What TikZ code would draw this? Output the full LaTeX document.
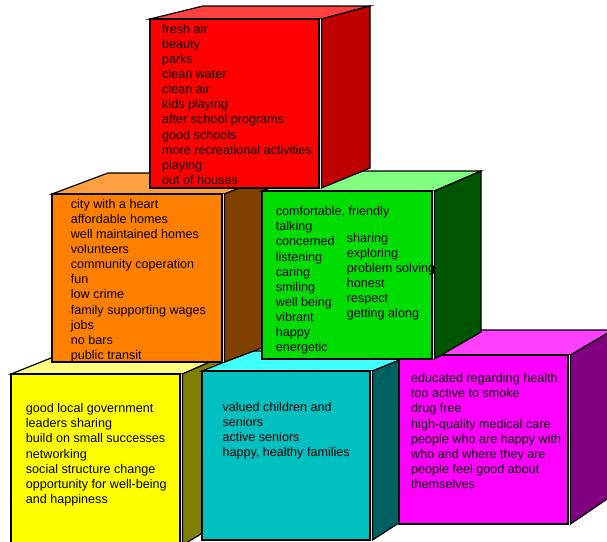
\documentclass[tikz,border=0pt]{standalone}
\usepackage{fontspec}
\setmainfont{Liberation Sans}
\definecolor{cuberedF}{RGB}{255,0,0}
\definecolor{cuberedT}{RGB}{255,64,64}
\definecolor{cuberedS}{RGB}{192,0,0}
\definecolor{cubeorangeF}{RGB}{255,128,0}
\definecolor{cubeorangeT}{RGB}{255,160,64}
\definecolor{cubeorangeS}{RGB}{128,64,0}
\definecolor{cubegreenF}{RGB}{0,221,0}
\definecolor{cubegreenT}{RGB}{128,255,128}
\definecolor{cubegreenS}{RGB}{0,85,0}
\definecolor{cubeyellowF}{RGB}{255,255,0}
\definecolor{cubeyellowT}{RGB}{255,255,128}
\definecolor{cubeyellowS}{RGB}{128,128,0}
\definecolor{cubecyanF}{RGB}{0,192,192}
\definecolor{cubecyanT}{RGB}{64,255,255}
\definecolor{cubecyanS}{RGB}{0,96,96}
\definecolor{cubemagentaF}{RGB}{255,0,255}
\definecolor{cubemagentaT}{RGB}{255,64,255}
\definecolor{cubemagentaS}{RGB}{128,0,128}
\tikzset{
  faceedge/.style={draw=black, line width=1.2pt, line join=miter},
  frontedge/.style={draw=black, line width=2pt, line join=miter},
  lbl/.style={anchor=base west, inner sep=0pt, text=black,
    font=\fontsize{12.6}{15.1}\selectfont},
}
% #1 L  #2 T  #3 R  #4 B  #5 L'  #6 T'  #7 R'  #8 B'  #9 colour prefix
\newcommand\drawcube[9]{%
  \path[faceedge, fill=cube#9T] (#1,#2) -- (#3+2.5,#2) -- (#7,#6) -- (#5,#6) -- cycle;
  \fill[white] (#3,#2) rectangle (#3+2.5,#4);
  \path[faceedge, fill=cube#9S] (#3+2.5,#2) -- (#7,#6) -- (#7,#8) -- (#3+2.5,#4) -- cycle;
  \path[frontedge, fill=cube#9F] (#1,#2) rectangle (#3,#4);
}
\newcommand\lines[1]{\begin{tabular}[t]{@{}l@{}}#1\end{tabular}}
\begin{document}
\begin{tikzpicture}[x=1pt, y=-1pt]
\useasboundingbox (0,0) rectangle (607,541);
\clip (0,0) rectangle (607,541);
% bottom row
\drawcube{11}{374}{180}{545}{61}{354}{228}{518}{yellow}
\drawcube{202}{371}{370}{540}{252}{351}{422}{508}{cyan}
\drawcube{399}{355}{568}{524}{447}{330}{613}{495}{magenta}
% middle row
\drawcube{52}{194}{222}{362}{108}{173}{278}{342}{orange}
\drawcube{262}{191}{432}{359}{313}{171}{481}{332}{green}
% top
\drawcube{150}{19}{319}{188}{203}{6}{370}{168}{red}

\node[lbl] (redtext) at (162,33.3) {\lines{fresh air\\ beauty\\ parks\\ clean water\\ clean air\\ kids playing\\ after school programs\\ good schools\\ more recreational activities\\ playing\\ out of houses}};
\node[lbl] (orangetext) at (70.7,208.3) {\lines{city with a heart\\ affordable homes\\ well maintained homes\\ volunteers\\ community coperation\\ fun\\ low crime\\ family supporting wages\\ jobs\\ no bars\\ public transit}};
\node[lbl] (greenleft) at (275.7,215.7) {\lines{comfortable, friendly\\ talking\\ concerned\\ listening\\ caring\\ smiling\\ well being\\ vibrant\\ happy\\ energetic}};
\node[lbl] (greenright) at (346.7,242.3) {\lines{sharing\\ exploring\\ problem solving\\ honest\\ respect\\ getting along}};
\node[lbl] (yellowtext) at (25.7,412.7) {\lines{good local government\\ leaders sharing\\ build on small successes\\ networking\\ social structure change\\ opportunity for well-being\\ and happiness}};
\node[lbl] (cyantext) at (222.3,411) {\lines{valued children and\\ seniors\\ active seniors\\ happy, healthy families}};
\node[lbl] (magentatext) at (411,382.7) {\lines{educated regarding health\\ too active to smoke\\ drug free\\ high-quality medical care\\ people who are happy with\\ who and where they are\\ people feel good about\\ themselves}};
\end{tikzpicture}
\end{document}
